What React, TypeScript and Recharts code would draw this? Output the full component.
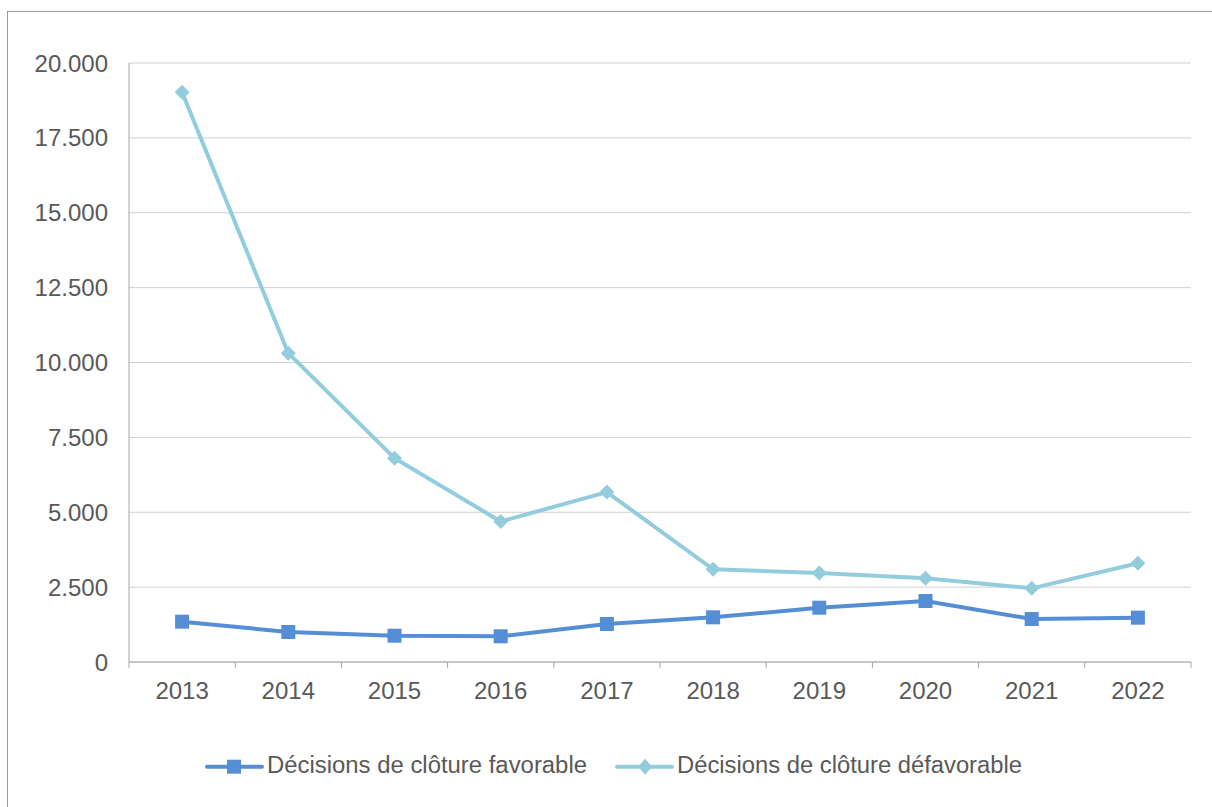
import React from 'react';
import { LineChart, Line, XAxis, YAxis, CartesianGrid, Legend } from 'recharts';

const years = ['2013', '2014', '2015', '2016', '2017', '2018', '2019', '2020', '2021', '2022'];
const favorable = [1346, 1002, 878, 858, 1269, 1492, 1813, 2037, 1436, 1480];
const defavorable = [19022, 10310, 6807, 4692, 5672, 3095, 2972, 2795, 2460, 3295];
const yTicks = [0, 2500, 5000, 7500, 10000, 12500, 15000, 17500, 20000];
const seriesNames = ['Décisions de clôture favorable', 'Décisions de clôture défavorable'];

const data = years.map((y, i) => ({ year: y, fav: favorable[i], defav: defavorable[i] }));

const BLUE = '#558ED5';
const CYAN = '#93CDDD';
const AXIS = '#a6a6a6';
const TEXT = '#595959';
const FONT = '"Liberation Sans", Arial, sans-serif';

const fmt = (v: number) =>
  v === 0 ? '0' : `${Math.floor(v / 1000)}.${String(v % 1000).padStart(3, '0')}`;

const Square = (props: any) => {
  const { cx, cy } = props;
  if (cx == null || cy == null) return null;
  return <rect x={cx - 7} y={cy - 7} width={14} height={14} fill={BLUE} />;
};

const Diamond = (props: any) => {
  const { cx, cy } = props;
  if (cx == null || cy == null) return null;
  const h = 7.5;
  return <polygon points={`${cx},${cy - h} ${cx + h},${cy} ${cx},${cy + h} ${cx - h},${cy}`} fill={CYAN} />;
};

const XTick = (props: any) => {
  const { x, y, payload, index, visibleTicksCount, width } = props;
  const w = typeof width === 'number' ? width : 1062;
  const n = visibleTicksCount || years.length;
  const half = w / n / 2;
  const axisY = y - 20;
  return (
    <g>
      <line x1={x - half} y1={axisY} x2={x - half} y2={axisY + 6} stroke={AXIS} strokeWidth={1} />
      {index === n - 1 && (
        <line x1={x + half} y1={axisY} x2={x + half} y2={axisY + 6} stroke={AXIS} strokeWidth={1} />
      )}
      <text x={x} y={y} dy="0.71em" textAnchor="middle" fill={TEXT} fontSize={24} fontFamily={FONT}>
        {payload.value}
      </text>
    </g>
  );
};

const renderLegend = () => {
  const items = [
    { name: seriesNames[0], color: BLUE, x0: 199, mx: 226, tx: 259, tl: 320, shape: 'square' },
    { name: seriesNames[1], color: CYAN, x0: 609, mx: 637, tx: 669, tl: 345, shape: 'diamond' },
  ];
  const cy = 26.7;
  return (
    <svg width={1204} height={50} style={{ display: 'block' }}>
      {items.map((it) => (
        <g key={it.name}>
          <line x1={it.x0} y1={cy} x2={it.x0 + 55} y2={cy} stroke={it.color} strokeWidth={4} strokeLinecap="round" />
          {it.shape === 'square' ? (
            <rect x={it.mx - 7} y={cy - 7} width={14} height={14} fill={it.color} />
          ) : (
            <polygon
              points={`${it.mx},${cy - 8} ${it.mx + 7},${cy} ${it.mx},${cy + 8} ${it.mx - 7},${cy}`}
              fill={it.color}
            />
          )}
          <text
            x={it.tx}
            y={33.3}
            fill={TEXT}
            fontSize={23}
            fontFamily={FONT}
            textLength={it.tl}
            lengthAdjust="spacingAndGlyphs"
          >
            {it.name}
          </text>
        </g>
      ))}
    </svg>
  );
};

export default function App() {
  return (
    <div
      style={{
        position: 'fixed',
        left: 0,
        top: 0,
        width: 1212,
        height: 807,
        overflow: 'hidden',
        background: '#fff',
      }}
    >
      <div
        style={{
          position: 'absolute',
          left: 7,
          top: 11,
          width: 1240,
          height: 840,
          borderLeft: '1px solid #9a9a9a',
          borderTop: '1px solid #9a9a9a',
          boxSizing: 'border-box',
        }}
      />
      <div style={{ position: 'absolute', left: 8, top: 8 }}>
        <LineChart width={1204} height={795} data={data} margin={{ top: 55, right: 21, left: 0, bottom: 101 }}>
          <CartesianGrid vertical={false} stroke="#d0d0d0" strokeWidth={1} />
          <XAxis
            dataKey="year"
            scale="band"
            height={40}
            axisLine={{ stroke: AXIS, strokeWidth: 1 }}
            tickLine={false}
            tickSize={6}
            tickMargin={14}
            tick={<XTick />}
            interval={0}
          />
          <YAxis
            width={121}
            domain={[0, 20000]}
            ticks={yTicks}
            tickFormatter={fmt}
            axisLine={{ stroke: AXIS, strokeWidth: 1 }}
            tickLine={false}
            tickSize={0}
            tickMargin={21}
            tick={{ fill: TEXT, fontSize: 24, fontFamily: FONT }}
            interval={0}
          />
          <Line
            type="linear"
            dataKey="fav"
            name={seriesNames[0]}
            stroke={BLUE}
            strokeWidth={4}
            dot={<Square />}
            activeDot={false}
            isAnimationActive={false}
          />
          <Line
            type="linear"
            dataKey="defav"
            name={seriesNames[1]}
            stroke={CYAN}
            strokeWidth={4}
            dot={<Diamond />}
            activeDot={false}
            isAnimationActive={false}
          />
          <Legend
            verticalAlign="middle"
            align="center"
            layout="horizontal"
            content={renderLegend}
            wrapperStyle={{ left: 0, top: 732, width: 1204, height: 50 }}
          />
        </LineChart>
      </div>
    </div>
  );
}
